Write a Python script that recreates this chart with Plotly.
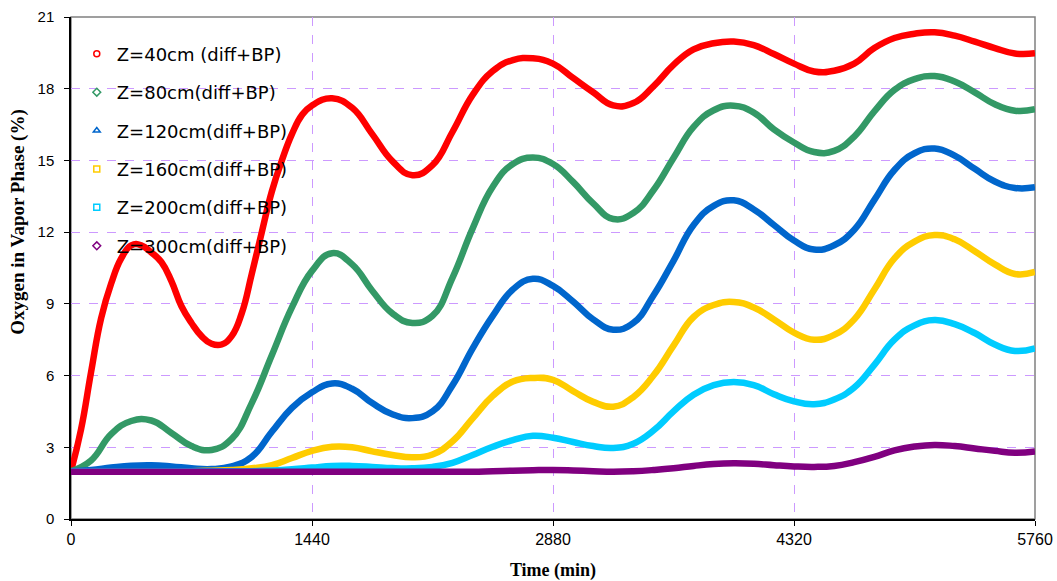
import plotly.graph_objects as go

time_min = [0, 120, 240, 360, 480, 600, 720, 840, 960, 1080, 1200, 1320, 1440,
            1560, 1680, 1800, 1920, 2040, 2160, 2280, 2400, 2520, 2640, 2760, 2880,
            3000, 3120, 3240, 3360, 3480, 3600, 3720, 3840, 3960, 4080, 4200, 4320,
            4440, 4560, 4680, 4800, 4920, 5040, 5160, 5280, 5400, 5520, 5640, 5760]

# Z=40cm sampled more finely (its early swing is steep)
time_z40 = [0, 60, 120, 180, 240, 300, 360, 420, 480, 540, 600, 660, 720, 780, 840,
            900, 960, 1020, 1080, 1140, 1200, 1260, 1320, 1380, 1440,
            1560, 1680, 1800, 1920, 2040, 2160, 2280, 2400, 2520, 2640, 2760, 2880,
            3000, 3120, 3240, 3360, 3480, 3600, 3720, 3840, 3960, 4080, 4200, 4320,
            4440, 4560, 4680, 4800, 4920, 5040, 5160, 5280, 5400, 5520, 5640, 5760]
z40 = [2.0, 3.75, 6.15, 8.4, 9.85, 10.9, 11.45, 11.45, 11.15, 10.75, 9.95, 8.9, 8.2, 7.65, 7.33,
       7.3, 7.65, 8.6, 10.25, 12.0, 13.7, 15.0, 16.1, 16.9, 17.3,
       17.6, 17.2, 16.1, 14.97, 14.38, 14.8, 16.2, 17.74, 18.74, 19.2, 19.27, 19.05,
       18.45, 17.85, 17.3, 17.4, 18.1, 19.0, 19.65, 19.9, 19.97, 19.82, 19.45, 19.05,
       18.72, 18.75, 19.05, 19.7, 20.12, 20.3, 20.36, 20.22, 19.97, 19.7, 19.47, 19.48]
z80 = [2.0, 2.45, 3.55, 4.1, 4.12, 3.6, 3.05, 2.89, 3.35, 4.85, 6.85, 8.85, 10.38,
       11.12, 10.65, 9.55, 8.6, 8.2, 8.5, 10.1, 12.16, 13.9, 14.85, 15.12, 14.85,
       14.1, 13.2, 12.55, 12.8, 13.75, 15.1, 16.4, 17.1, 17.29, 17.0, 16.3, 15.75,
       15.35, 15.4, 16.0, 17.05, 17.95, 18.4, 18.53, 18.3, 17.85, 17.35, 17.08, 17.14]
z120 = [2.0, 2.05, 2.15, 2.23, 2.25, 2.2, 2.12, 2.09, 2.2, 2.6, 3.65, 4.65, 5.3,
        5.67, 5.45, 4.85, 4.38, 4.22, 4.5, 5.6, 7.14, 8.5, 9.6, 10.05, 9.75,
        9.1, 8.35, 7.92, 8.2, 9.35, 10.8, 12.3, 13.1, 13.33, 12.95, 12.3, 11.65,
        11.27, 11.45, 12.1, 13.35, 14.6, 15.3, 15.5, 15.2, 14.65, 14.12, 13.85, 13.88]
z160 = [2.0, 2.0, 2.0, 2.0, 2.0, 2.0, 2.0, 2.02, 2.05, 2.12, 2.25, 2.55, 2.85,
        3.02, 3.0, 2.83, 2.68, 2.58, 2.7, 3.25, 4.21, 5.15, 5.75, 5.9, 5.82,
        5.35, 4.9, 4.7, 5.1, 6.0, 7.25, 8.45, 8.95, 9.08, 8.85, 8.35, 7.8,
        7.5, 7.7, 8.35, 9.6, 10.9, 11.6, 11.88, 11.7, 11.2, 10.65, 10.25, 10.34]
z200 = [2.0, 2.0, 2.0, 2.0, 2.0, 2.0, 2.0, 2.0, 2.0, 2.0, 2.03, 2.08, 2.15,
        2.22, 2.22, 2.18, 2.13, 2.12, 2.18, 2.35, 2.68, 3.02, 3.3, 3.48, 3.4,
        3.22, 3.05, 2.97, 3.15, 3.7, 4.5, 5.2, 5.6, 5.73, 5.6, 5.22, 4.92,
        4.8, 5.0, 5.5, 6.45, 7.5, 8.1, 8.32, 8.15, 7.78, 7.3, 7.03, 7.14]
z300 = [1.98, 1.98, 1.98, 1.98, 1.98, 1.98, 1.98, 1.98, 1.98, 1.98, 1.98, 1.98, 1.98,
        1.98, 1.98, 1.98, 1.98, 1.98, 1.98, 1.98, 1.98, 2.0, 2.02, 2.04, 2.05,
        2.03, 2.0, 1.98, 2.0, 2.05, 2.12, 2.22, 2.3, 2.33, 2.31, 2.25, 2.2,
        2.18, 2.22, 2.38, 2.6, 2.87, 3.03, 3.1, 3.05, 2.95, 2.85, 2.77, 2.82]

series_names = ["Z=40cm (diff+BP)", "Z=80cm(diff+BP)", "Z=120cm(diff+BP)",
                "Z=160cm(diff+BP)", "Z=200cm(diff+BP)", "Z=300cm(diff+BP)"]
series_times = [time_z40, time_min, time_min, time_min, time_min, time_min]
series_values = [z40, z80, z120, z160, z200, z300]
colors = ["#FF0000", "#339966", "#0066CC", "#FFCC00", "#00CCFF", "#800080"]
symbols = ["circle-open", "diamond-open", "triangle-up-open", "square-open",
           "square-open", "diamond-open"]

x_ticks = [0, 1440, 2880, 4320, 5760]
y_ticks = [0, 3, 6, 9, 12, 15, 18, 21]

fig = go.Figure()

for name, xs, vals, col in zip(series_names, series_times, series_values, colors):
    fig.add_trace(go.Scatter(
        x=xs, y=vals, mode="lines",
        line=dict(color=col, width=6.5, shape="spline", smoothing=1.3),
        showlegend=False, hoverinfo="skip"))

for i, (name, col, sym) in enumerate(zip(series_names, colors, symbols)):
    fig.add_trace(go.Scatter(
        x=[None], y=[None], mode="markers", name=name,
        legendgroup="g%d" % i,
        marker=dict(symbol=sym, color=col, size=6, line=dict(color=col, width=1.5))))

fig.add_shape(type="rect", xref="paper", yref="paper", x0=0, y0=0, x1=1, y1=1,
              line=dict(color="#808080", width=1.5), layer="below")

fig.add_annotation(text="<b>Oxygen in Vapor Phase (%)</b>", textangle=-90,
                   xref="paper", yref="paper", x=-0.055, y=0.592,
                   xanchor="center", yanchor="middle", showarrow=False,
                   font=dict(family="Liberation Serif", size=19, color="black"))

fig.update_layout(
    width=1057, height=581, autosize=False,
    margin=dict(l=71, r=22, t=17, b=62),
    paper_bgcolor="white", plot_bgcolor="white",
    legend=dict(x=0.006, y=0.963, xanchor="left", yanchor="top",
                bgcolor="rgba(0,0,0,0)", traceorder="grouped", tracegroupgap=12,
                font=dict(family="DejaVu Sans", size=18, color="black"),
                itemwidth=30),
    xaxis=dict(range=[0, 5760], tickvals=x_ticks, ticktext=[str(v) for v in x_ticks],
               showgrid=True, gridcolor="#CC99FF", griddash="dash", gridwidth=1,
               showline=True, linecolor="black", linewidth=1.5,
               ticks="outside", ticklen=5, tickcolor="black",
               tickfont=dict(family="Liberation Sans", size=16, color="black"),
               title=dict(text="<b>Time (min)</b>", standoff=18,
                          font=dict(family="Liberation Serif", size=18, color="black")),
               zeroline=False, automargin=False),
    yaxis=dict(range=[0, 21], tickvals=y_ticks, ticktext=[str(v) for v in y_ticks],
               showgrid=True, gridcolor="#CC99FF", griddash="dash", gridwidth=1,
               showline=True, linecolor="black", linewidth=1.5,
               ticks="outside", ticklen=5, tickcolor="black",
               tickfont=dict(family="Liberation Sans", size=15, color="black"),
               ticklabelstandoff=7,
               zeroline=False, automargin=False),
)

fig.write_html("out.html")
